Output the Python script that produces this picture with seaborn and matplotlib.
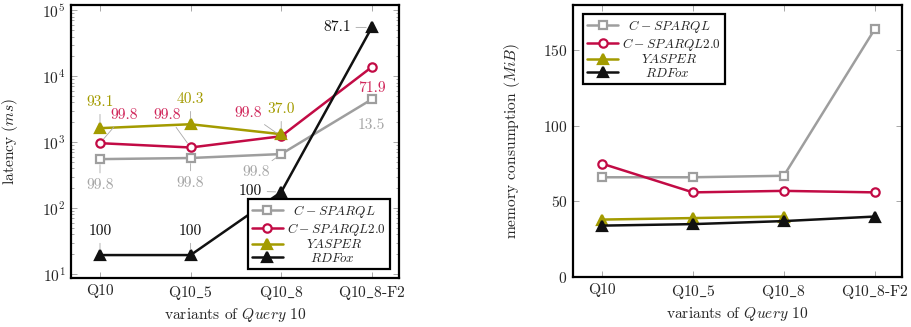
import numpy as np
import pandas as pd
import matplotlib
matplotlib.use("Agg")
import matplotlib.pyplot as plt
import seaborn as sns

# ---------------- data ----------------
categories = ["Q10", "Q10$\\_$5", "Q10$\\_$8", "Q10$\\_$8-F2"]
series_names = ["C-SPARQL", "C-SPARQL2.0", "YASPER", "RDFox"]
legend_labels = [r"$\;\;C\:-\:SPARQL$", r"$C\:-\:SPARQL2.0$",
                 r"$\quad\ \ YASPER$", r"$\qquad RDFox$"]

latency_csparql = [553, 575, 660, 4470]
latency_csparql2 = [965, 830, 1230, 13800]
latency_yasper = [1630, 1870, 1320, np.nan]
latency_rdfox = [19.4, 19.4, 175, 55000]

memory_csparql = [66, 66, 67, 164]
memory_csparql2 = [75, 56, 57, 56]
memory_yasper = [38, 39, 40, np.nan]
memory_rdfox = [34, 35, 37, 40]

labels_csparql = ["99.8", "99.8", "99.8", "13.5"]
labels_csparql2 = ["99.8", "99.8", "99.8", "71.9"]
labels_yasper = ["93.1", "40.3", "37.0", None]
labels_rdfox = ["100", "100", "100", "87.1"]

# ---------------- style ----------------
sns.set_theme(style="ticks")
plt.rcParams["font.family"] = ["cmr10", "DejaVu Serif"]
plt.rcParams["mathtext.fontset"] = "cm"
plt.rcParams["axes.formatter.use_mathtext"] = True
plt.rcParams["axes.unicode_minus"] = False

FS = 11.2
colors = ["#9e9e9e", "#c20b45", "#a39b00", "#111111"]
text_colors = ["#a6a6a6", "#d0265a", "#a39b00", "#111111"]
markers = ["s", "o", "^", "^"]
msizes = [5.5, 6, 7, 7]
faces = ["white", "white", None, None]

# label offsets in pixels (dx, dy) per series per point, and whether pin line drawn
offs = [
    [(0, -26), (0, -25), (-25, -18), (0, -26)],
    [(24, 28), (-23, 32), (-33, 23), (0, -21)],
    [(0, 26), (0, 25), (0, 25), None],
    [(0, 24), (0, 24), (-31, 1), (-35, 0)],
]
pins = [
    [True, True, True, False],
    [True, True, True, False],
    [True, True, True, False],
    [True, True, True, True],
]

lat = [latency_csparql, latency_csparql2, latency_yasper, latency_rdfox]
mem = [memory_csparql, memory_csparql2, memory_yasper, memory_rdfox]
lbls = [labels_csparql, labels_csparql2, labels_yasper, labels_rdfox]

xpos = np.arange(len(categories))

fig = plt.figure(figsize=(9.12, 3.27), dpi=100)
ax1 = fig.add_axes([71 / 912, 1 - 278 / 327, 328 / 912, 273 / 327])
ax2 = fig.add_axes([573 / 912, 1 - 277 / 327, 329 / 912, 272 / 327])

def draw(ax, data):
    for i, name in enumerate(series_names):
        df = pd.DataFrame({"x": xpos, "y": data[i]}).dropna()
        kw = dict(marker=markers[i], markersize=msizes[i], markeredgewidth=1.6,
                  markeredgecolor=colors[i], linewidth=1.8)
        kw["markerfacecolor"] = faces[i] if faces[i] is not None else colors[i]
        sns.lineplot(data=df, x="x", y="y", ax=ax, color=colors[i], label=legend_labels[i],
                     legend=False, **kw)

draw(ax1, lat)
draw(ax2, mem)

# annotations on latency plot
for i in range(len(series_names)):
    for j in range(len(categories)):
        t = lbls[i][j]
        if t is None or np.isnan(lat[i][j]):
            continue
        dx, dy = offs[i][j]
        ap = None
        if pins[i][j]:
            ap = dict(arrowstyle="-", color="#a8a8a8", lw=0.6, shrinkA=1.5, shrinkB=4)
        ax1.annotate(t, xy=(xpos[j], lat[i][j]), xytext=(dx, dy), textcoords="offset pixels",
                     ha="center", va="center", fontsize=FS, color=text_colors[i],
                     arrowprops=ap, zorder=5)

# axes formatting
for ax in (ax1, ax2):
    ax.set_xticks(xpos)
    ax.set_xticklabels(categories, fontsize=FS)
    ax.set_xlim(-0.32, 3.3)
    ax.tick_params(axis="both", which="both", direction="in", top=True, right=True,
                   color="#9a9a9a", width=0.6, labelsize=FS, pad=4)
    ax.tick_params(axis="both", which="major", length=4)
    for s in ax.spines.values():
        s.set_linewidth(1.6)
        s.set_color("black")
    ax.set_xlabel(r"variants of $\mathit{Query}$ $\mathit{10}$", fontsize=FS, labelpad=3)

ax1.set_yscale("log")
ax1.set_ylim(10 ** 0.94, 10 ** 5.08)
ax1.set_yticks([1e1, 1e2, 1e3, 1e4, 1e5])
ax1.tick_params(axis="y", which="minor", length=2.5)
ax1.set_ylabel(r"latency $(ms)$", fontsize=FS)
ax1.yaxis.set_label_coords(-0.155, 0.5)

ax2.set_ylim(0, 180)
ax2.set_yticks([0, 50, 100, 150])
ax2.set_ylabel(r"memory consumption $(MiB)$", fontsize=FS)
ax2.yaxis.set_label_coords(-0.155, 0.5)

leg_kw = dict(frameon=True, fancybox=False, framealpha=1, edgecolor="black", fontsize=9.5,
              handlelength=2.4, borderaxespad=0, labelspacing=0.05, borderpad=0.3,
              handletextpad=0.3)
h1, l1 = ax1.get_legend_handles_labels()
leg1 = ax1.legend(h1, l1, loc="lower right", bbox_to_anchor=(0.973, 0.033), **leg_kw)
leg1.get_frame().set_linewidth(1.6)
h2, l2 = ax2.get_legend_handles_labels()
leg2 = ax2.legend(h2, l2, loc="upper left", bbox_to_anchor=(0.030, 0.967), **leg_kw)
leg2.get_frame().set_linewidth(1.6)

fig.savefig("out.png", dpi=100)
